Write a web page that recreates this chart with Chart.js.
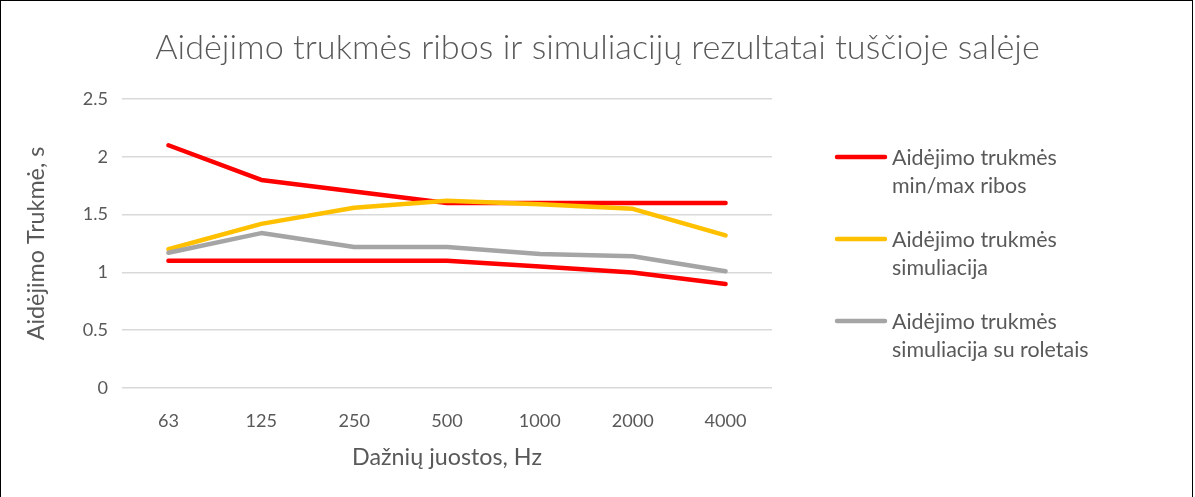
<!DOCTYPE html>
<html><head><meta charset="utf-8">
<script src="https://cdn.jsdelivr.net/npm/chart.js@4.4.1/dist/chart.umd.min.js"></script>
<style>
html,body{margin:0;padding:0;background:#fff;overflow:hidden;}
#wrap{position:relative;width:1195px;height:497px;}
canvas{display:block;position:absolute;left:0;top:0;}
#frame{position:absolute;left:0;top:0;width:1193px;height:510px;border:1.5px solid #000;box-sizing:border-box;pointer-events:none;}
</style></head><body>
<div id="wrap"><canvas id="c" width="1195" height="497"></canvas><div id="frame"></div></div>
<script>
// ---- data ----
const categories = ['63', '125', '250', '500', '1000', '2000', '4000'];
const maxLimit = [2.1, 1.8, 1.7, 1.6, 1.6, 1.6, 1.6];
const minLimit = [1.1, 1.1, 1.1, 1.1, 1.05, 1.0, 0.9];
const simulation = [1.2, 1.42, 1.56, 1.62, 1.59, 1.55, 1.32];
const simulationBlinds = [1.17, 1.34, 1.22, 1.22, 1.16, 1.14, 1.01];
const yTicks = [0, 0.5, 1, 1.5, 2, 2.5];
const legendLabels = [
  ['Aidėjimo trukmės', 'min/max ribos'],
  ['Aidėjimo trukmės', 'simuliacija'],
  ['Aidėjimo trukmės', 'simuliacija su roletais']
];
const titleText = 'Aidėjimo trukmės ribos ir simuliacijų rezultatai tuščioje salėje';
const xTitle = 'Dažnių juostos, Hz';
const yTitle = 'Aidėjimo Trukmė, s';

// ---- styling ----
const FAMILY = 'Lato, "Open Sans", sans-serif';
const TXT = '#595959';
const RED = '#FF0000', YEL = '#FFC000', GRY = '#A5A5A5';
const mctx = document.createElement('canvas').getContext('2d');
function fit(text, target, weight) {
  mctx.font = (weight || 'normal') + ' 100px ' + FAMILY;
  return 100 * target / mctx.measureText(text).width;
}
const titleSize = fit(titleText, 885, '300');
const legendSize = fit(legendLabels[0][0], 165);
const axisTitleSize = fit(xTitle, 190);
const tickSize = fit('1000', 42);

const legendPlugin = {
  id: 'sideLegend',
  afterDraw(chart) {
    const ctx = chart.ctx;
    const items = [
      {color: RED, lines: legendLabels[0]},
      {color: YEL, lines: legendLabels[1]},
      {color: GRY, lines: legendLabels[2]}
    ];
    ctx.save();
    ctx.font = legendSize + 'px ' + FAMILY;
    ctx.fillStyle = TXT;
    ctx.textBaseline = 'middle';
    ctx.textAlign = 'left';
    items.forEach((it, i) => {
      const y = 157 + i * 82;
      ctx.strokeStyle = it.color;
      ctx.lineWidth = 4.5;
      ctx.lineCap = 'round';
      ctx.beginPath(); ctx.moveTo(837, y); ctx.lineTo(885, y); ctx.stroke();
      it.lines.forEach((t, j) => ctx.fillText(t, 892, y + 1 + j * 28));
    });
    ctx.restore();
  }
};

const common = {pointRadius: 0, pointHoverRadius: 0, borderWidth: 4.5, borderCapStyle: 'round', borderJoinStyle: 'round', tension: 0, fill: false};

new Chart(document.getElementById('c'), {
  type: 'line',
  data: {
    labels: categories,
    datasets: [
      Object.assign({label: legendLabels[0].join(' '), data: maxLimit, borderColor: RED, order: 3}, common),
      Object.assign({label: legendLabels[0].join(' ') + ' (min)', data: minLimit, borderColor: RED, order: 3}, common),
      Object.assign({label: legendLabels[1].join(' '), data: simulation, borderColor: YEL, order: 2}, common),
      Object.assign({label: legendLabels[2].join(' '), data: simulationBlinds, borderColor: GRY, order: 1}, common)
    ]
  },
  options: {
    responsive: false,
    animation: false,
    events: [],
    layout: {padding: 0},
    plugins: {
      legend: {display: false},
      tooltip: {enabled: false},
      title: {
        display: true, text: titleText, color: TXT,
        font: {family: FAMILY, size: titleSize, weight: '300', lineHeight: 1.2},
        padding: {top: 48 - titleSize * 0.6, bottom: 99 - 48 - titleSize * 0.6}
      }
    },
    scales: {
      x: {
        offset: true,
        grid: {display: false, drawTicks: false},
        border: {display: false},
        ticks: {color: TXT, padding: 22, font: {family: FAMILY, size: tickSize}, maxRotation: 0},
        title: {display: true, text: xTitle, color: TXT, font: {family: FAMILY, size: axisTitleSize}, padding: {top: 0, bottom: 26}},
        afterFit(s) { s.height = 109; }
      },
      y: {
        min: 0, max: 2.5,
        grid: {color: '#D9D9D9', lineWidth: 1.5, drawTicks: false},
        border: {display: false},
        afterBuildTicks(s) { s.ticks = yTicks.map(v => ({value: v})); },
        ticks: {color: TXT, padding: 14, font: {family: FAMILY, size: tickSize}, callback: v => String(v)},
        title: {display: true, text: yTitle, color: TXT, font: {family: FAMILY, size: axisTitleSize}, padding: {top: 22, bottom: 0}},
        afterFit(s) { s.width = 122; }
      },
      legendSpace: {
        type: 'linear', position: 'right', display: true,
        grid: {display: false, drawTicks: false}, border: {display: false},
        ticks: {display: false},
        afterFit(s) { s.width = 423; }
      }
    }
  },
  plugins: [legendPlugin]
});
</script>
</body></html>
